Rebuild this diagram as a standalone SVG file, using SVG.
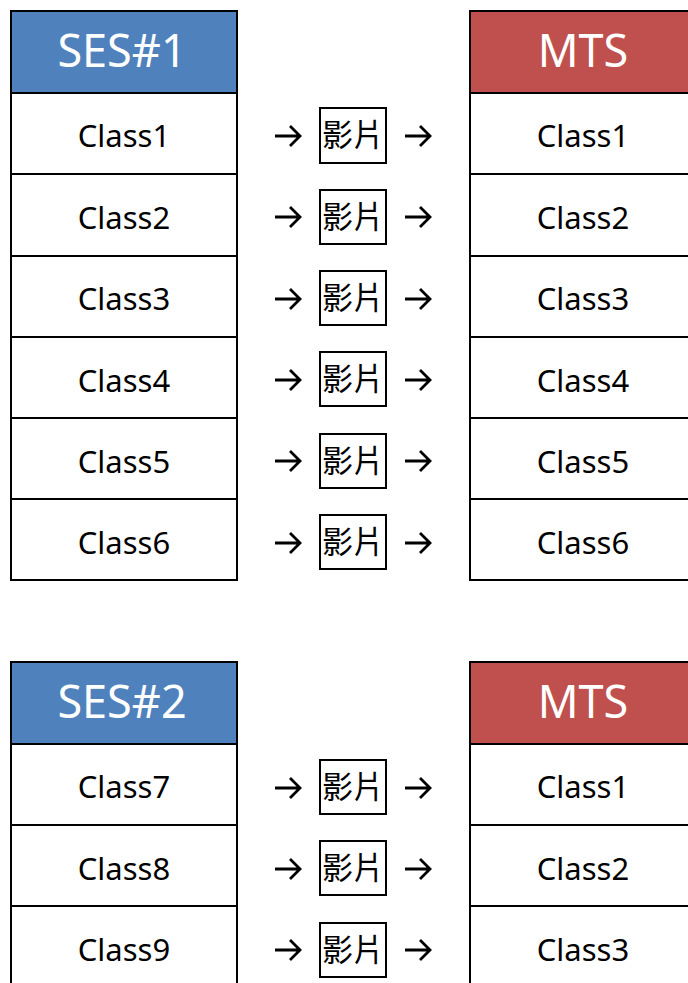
<svg xmlns="http://www.w3.org/2000/svg" width="688" height="983" viewBox="0 0 688 983">
<style>
.cell{fill:#fff;stroke:#000;stroke-width:2}
.hs{fill:#4f81bd;stroke:#000;stroke-width:2}
.hm{fill:#c0504d;stroke:#000;stroke-width:2}
.ht{font-family:"Noto Sans","Open Sans",sans-serif;font-size:45px;fill:#fff;text-anchor:middle}
.ct{font-family:"Noto Sans","Open Sans",sans-serif;font-size:31px;fill:#000;text-anchor:middle}
.vb{fill:#fff;stroke:#000;stroke-width:2}
.vt{font-family:"Noto Sans CJK TC","Noto Sans CJK SC",sans-serif;font-size:31px;fill:#000;text-anchor:middle}
.ar{fill:none;stroke:#000;stroke-width:2.8;stroke-linecap:butt}
</style>
<defs>
<path id="arr" class="ar" d="M0,0 H24 M15,-10 L25,0 L15,10"/>
</defs>
<g id="ses1">
<rect class="hs" x="11" y="11" width="226" height="82"/>
<text class="ht" x="122" y="67">SES#1</text>
<rect class="cell" x="11" y="93" width="226" height="81"/><text class="ct" x="124" y="147">Class1</text>
<rect class="cell" x="11" y="174" width="226" height="82"/><text class="ct" x="124" y="229">Class2</text>
<rect class="cell" x="11" y="256" width="226" height="81"/><text class="ct" x="124" y="310">Class3</text>
<rect class="cell" x="11" y="337" width="226" height="81"/><text class="ct" x="124" y="392">Class4</text>
<rect class="cell" x="11" y="418" width="226" height="81"/><text class="ct" x="124" y="473">Class5</text>
<rect class="cell" x="11" y="499" width="226" height="81"/><text class="ct" x="124" y="554">Class6</text>
</g>
<g id="mts1">
<rect class="hm" x="470" y="11" width="230" height="82"/>
<text class="ht" x="583" y="67">MTS</text>
<rect class="cell" x="470" y="93" width="230" height="81"/><text class="ct" x="583" y="147">Class1</text>
<rect class="cell" x="470" y="174" width="230" height="82"/><text class="ct" x="583" y="229">Class2</text>
<rect class="cell" x="470" y="256" width="230" height="81"/><text class="ct" x="583" y="310">Class3</text>
<rect class="cell" x="470" y="337" width="230" height="81"/><text class="ct" x="583" y="392">Class4</text>
<rect class="cell" x="470" y="418" width="230" height="81"/><text class="ct" x="583" y="473">Class5</text>
<rect class="cell" x="470" y="499" width="230" height="81"/><text class="ct" x="583" y="554">Class6</text>
</g>
<g id="ses2">
<rect class="hs" x="11" y="662" width="226" height="82"/>
<text class="ht" x="122" y="718">SES#2</text>
<rect class="cell" x="11" y="744" width="226" height="81"/><text class="ct" x="124" y="798">Class7</text>
<rect class="cell" x="11" y="825" width="226" height="81"/><text class="ct" x="124" y="880">Class8</text>
<rect class="cell" x="11" y="906" width="226" height="100"/><text class="ct" x="124" y="961">Class9</text>
</g>
<g id="mts2">
<rect class="hm" x="470" y="662" width="230" height="82"/>
<text class="ht" x="583" y="718">MTS</text>
<rect class="cell" x="470" y="744" width="230" height="81"/><text class="ct" x="583" y="798">Class1</text>
<rect class="cell" x="470" y="825" width="230" height="81"/><text class="ct" x="583" y="880">Class2</text>
<rect class="cell" x="470" y="906" width="230" height="100"/><text class="ct" x="583" y="961">Class3</text>
</g>
<g id="videos">
<g id="v1"><rect class="vb" x="320" y="108" width="66" height="55"/><text class="vt" x="353" y="146">影片</text></g>
<g id="v2"><rect class="vb" x="320" y="190" width="66" height="54"/><text class="vt" x="353" y="228">影片</text></g>
<g id="v3"><rect class="vb" x="320" y="271" width="66" height="54"/><text class="vt" x="353" y="309">影片</text></g>
<g id="v4"><rect class="vb" x="320" y="352" width="66" height="54"/><text class="vt" x="353" y="390">影片</text></g>
<g id="v5"><rect class="vb" x="320" y="434" width="66" height="54"/><text class="vt" x="353" y="472">影片</text></g>
<g id="v6"><rect class="vb" x="320" y="515" width="66" height="54"/><text class="vt" x="353" y="553">影片</text></g>
<g id="v7"><rect class="vb" x="320" y="760" width="66" height="54"/><text class="vt" x="353" y="798">影片</text></g>
<g id="v8"><rect class="vb" x="320" y="841" width="66" height="54"/><text class="vt" x="353" y="879">影片</text></g>
<g id="v9"><rect class="vb" x="320" y="923" width="66" height="54"/><text class="vt" x="353" y="961">影片</text></g>
</g>
<g id="connectors">
<use href="#arr" x="275" y="136"/><use href="#arr" x="405" y="136"/>
<use href="#arr" x="275" y="217"/><use href="#arr" x="405" y="217"/>
<use href="#arr" x="275" y="299"/><use href="#arr" x="405" y="299"/>
<use href="#arr" x="275" y="380"/><use href="#arr" x="405" y="380"/>
<use href="#arr" x="275" y="461"/><use href="#arr" x="405" y="461"/>
<use href="#arr" x="275" y="543"/><use href="#arr" x="405" y="543"/>
<use href="#arr" x="275" y="788"/><use href="#arr" x="405" y="788"/>
<use href="#arr" x="275" y="869"/><use href="#arr" x="405" y="869"/>
<use href="#arr" x="275" y="950"/><use href="#arr" x="405" y="950"/>
</g>
</svg>
